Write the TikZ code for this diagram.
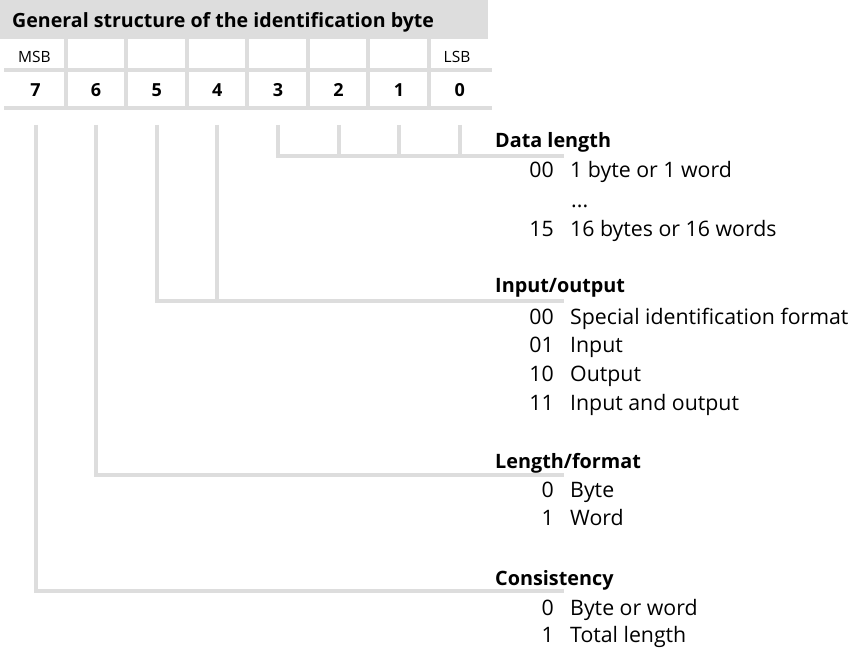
\documentclass[tikz,border=0pt]{standalone}
\usepackage{fontspec}
\setmainfont{Open Sans}
\begin{document}
\begin{tikzpicture}[x=1pt,y=-1pt,
  txt/.style={inner sep=0pt,anchor=base west,font=\fontsize{21.3}{24}\selectfont},
  num/.style={inner sep=0pt,anchor=base east,font=\fontsize{21.3}{24}\selectfont},
  head/.style={inner sep=0pt,anchor=base west,font=\fontsize{19.8}{24}\selectfont\bfseries},
  ttl/.style={inner sep=0pt,anchor=base west,font=\fontsize{19.6}{24}\selectfont\bfseries},
  small/.style={inner sep=0pt,anchor=base,font=\fontsize{15.5}{18}\selectfont},
  bitno/.style={inner sep=0pt,anchor=base,font=\fontsize{18}{20}\selectfont\bfseries},
  rule/.style={draw=lgray,line width=4pt},
  conn/.style={draw=lgray,line width=4pt,line join=miter}]
\definecolor{lgray}{HTML}{DDDDDD}
\useasboundingbox (0,0) rectangle (854,650);
% header
\fill[lgray] (0,0) rectangle (488,39);
\node[ttl] (title) at (12,28) {General structure of the identification byte};
% table grid
\draw[rule] (4,70.5) -- (492,70.5);
\draw[rule] (4,108) -- (492,108);
\foreach \k in {0,...,6} {
  \draw[rule] ({65.5+60.5*\k},39) -- ({65.5+60.5*\k},106);
}
\node[small] (msb) at (34.5,63) {MSB};
\node[small] (lsb) at (457,63) {LSB};
\foreach \b [count=\i from 0] in {7,6,5,4,3,2,1,0} {
  \node[bitno] (b\b) at ({35.5+60.6*\i},97) {\b};
  \coordinate (t\b) at ({35.5+60.6*\i},125);
}
% headings
\node[head] (h1) at (495,147) {Data length};
\node[head] (h2) at (495,292) {Input/output};
\node[head] (h3) at (495,468) {Length/format};
\node[head] (h4) at (495,585) {Consistency};
\coordinate (e1) at (564,156);
\coordinate (e2) at (564,301);
\coordinate (e3) at (564,475);
\coordinate (e4) at (564,591);
% connectors
\draw[conn] (t3) |- (e1);
\foreach \b in {2,1,0} { \draw[conn] (t\b) -- (t\b |- e1); }
\draw[conn] (t5) |- (e2);
\draw[conn] (t4) -- (t4 |- e2);
\draw[conn] (t6) |- (e3);
\draw[conn] (t7) |- (e4);
% values
\node[num] (n1a) at (554,178) {00}; \node[txt] (d1a) at (570,178) {1 byte or 1 word};
\node[txt] (d1b) at (571,207) {...};
\node[num] (n1c) at (554,236) {15}; \node[txt] (d1c) at (570,236) {16 bytes or 16 words};
\node[num] (n2a) at (554,324) {00}; \node[txt] (d2a) at (570,324) {Special identification format};
\node[num] (n2b) at (554,352) {01}; \node[txt] (d2b) at (570,352) {Input};
\node[num] (n2c) at (554,381) {10}; \node[txt] (d2c) at (570,381) {Output};
\node[num] (n2d) at (554,410) {11}; \node[txt] (d2d) at (570,410) {Input and output};
\node[num] (n3a) at (554,497) {0}; \node[txt] (d3a) at (570,497) {Byte};
\node[num] (n3b) at (554,525) {1}; \node[txt] (d3b) at (570,525) {Word};
\node[num] (n4a) at (554,615) {0}; \node[txt] (d4a) at (570,615) {Byte or word};
\node[num] (n4b) at (554,642) {1}; \node[txt] (d4b) at (570,642) {Total length};
\end{tikzpicture}
\end{document}
